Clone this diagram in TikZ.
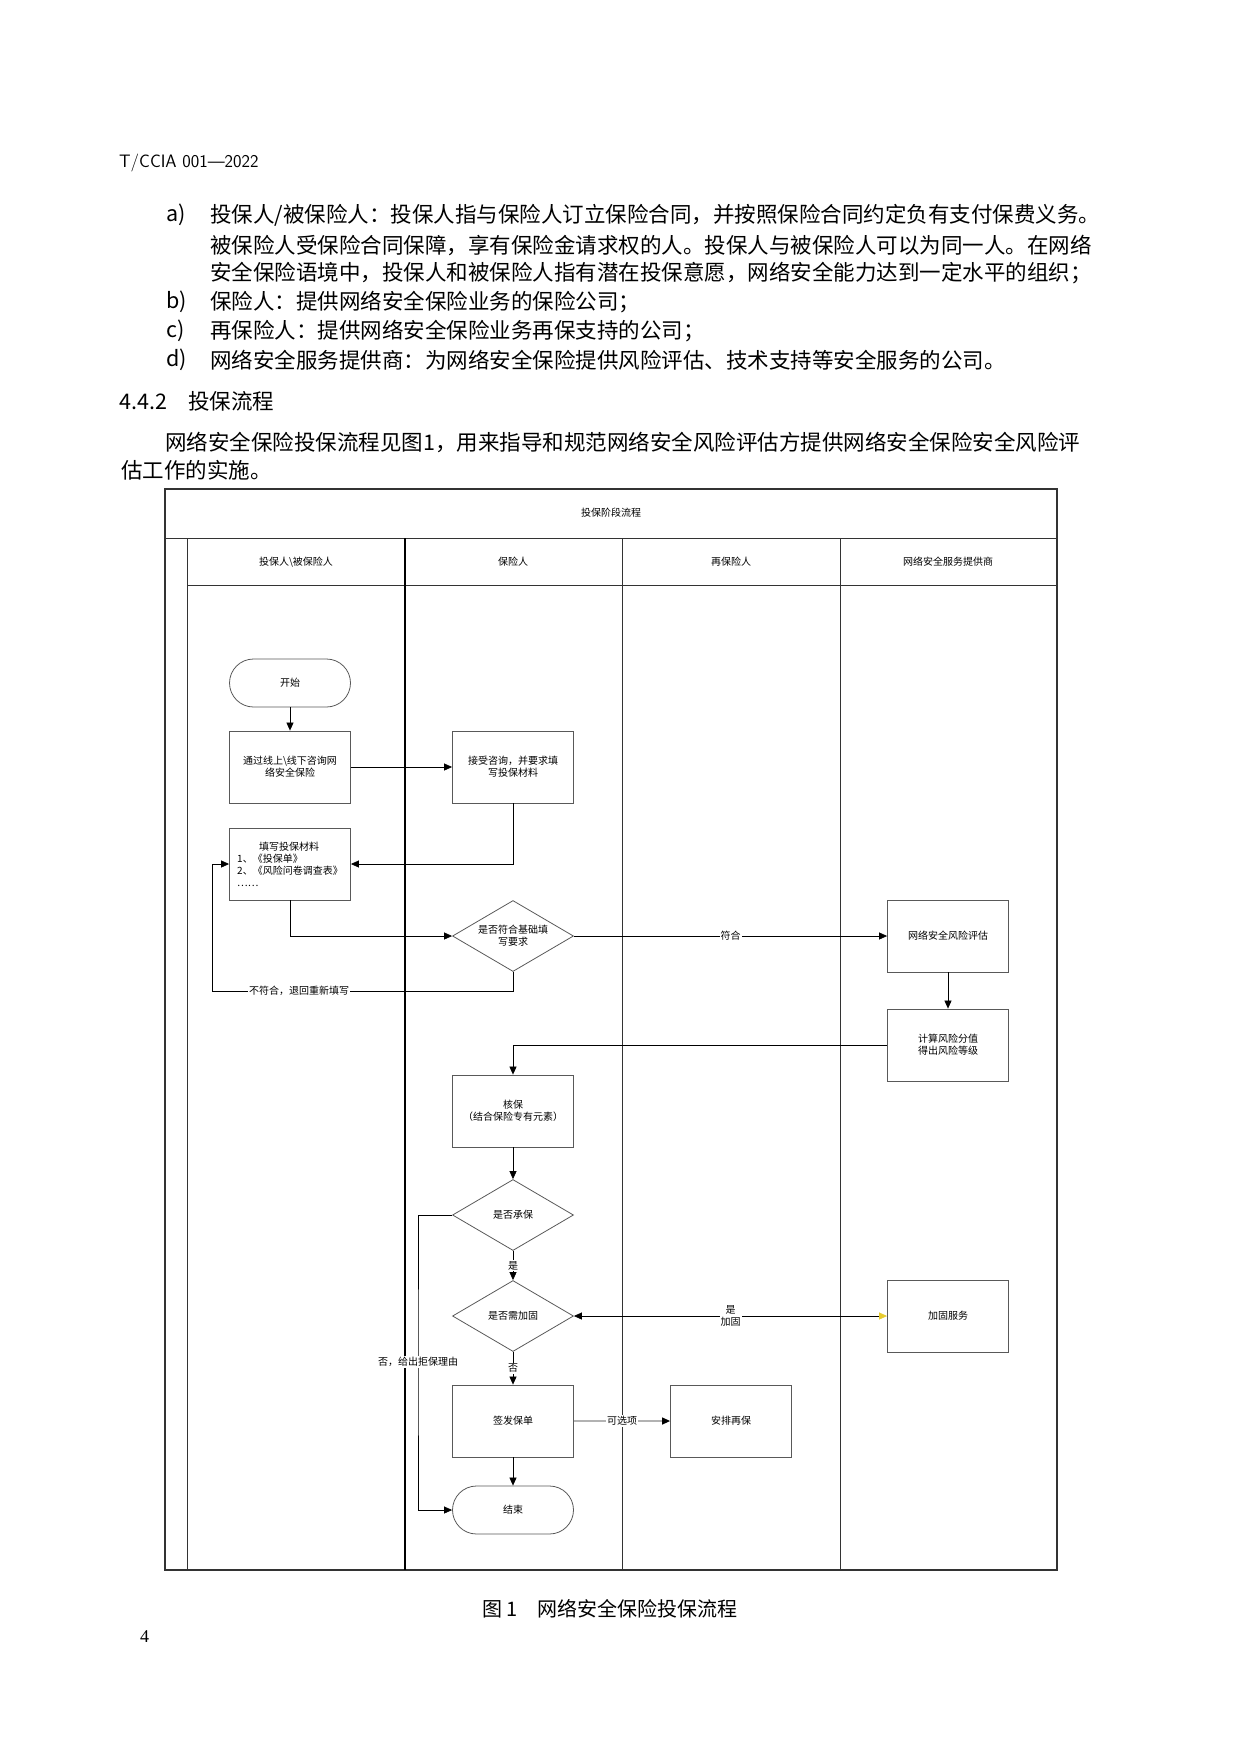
\documentclass[tikz,border=0pt]{standalone}
\usepackage{fontspec}
\setmainfont{Liberation Serif}
\newfontfamily\cjk{Noto Sans CJK SC}
\usetikzlibrary{shapes.geometric,arrows.meta}
\begin{document}
\begin{tikzpicture}[x=1pt,y=-1pt,
  body/.style={anchor=west,inner sep=0pt,font=\cjk\fontsize{21.5}{23}\selectfont},
  lbl/.style={font=\cjk\fontsize{10}{12}\selectfont,align=center},
  box/.style={draw=black!65,line width=0.8pt,minimum width=121pt,minimum height=72pt,lbl},
  term/.style={draw=black!65,line width=0.8pt,rounded corners=24pt,minimum width=121pt,minimum height=48pt,lbl},
  dia/.style={draw=black!65,line width=0.8pt,diamond,aspect=1.7,minimum width=121pt,minimum height=71pt,inner sep=0pt,lbl},
  con/.style={draw=black,line width=0.7pt,-{Triangle[length=8pt,width=7pt]}},
  tlbl/.style={lbl,fill=white,inner sep=1pt}]
\useasboundingbox (0,0) rectangle (1240,1754);
% page text
\node[body,font=\fontsize{18}{20}\selectfont\sffamily] (hdr) at (119,163) {T/CCIA 001—2022};
\node[body] (la) at (166,215) {a)};
\node[body] (ta) at (210,215) {投保人/被保险人：投保人指与保险人订立保险合同，并按照保险合同约定负有支付保费义务。};
\node[body] (ta2) at (210,245) {被保险人受保险合同保障，享有保险金请求权的人。投保人与被保险人可以为同一人。在网络};
\node[body] (ta3) at (210,273) {安全保险语境中，投保人和被保险人指有潜在投保意愿，网络安全能力达到一定水平的组织；};
\node[body] (lb) at (166,302) {b)};
\node[body] (tb) at (210,302) {保险人：提供网络安全保险业务的保险公司；};
\node[body] (lc) at (166,331) {c)};
\node[body] (tc) at (210,331) {再保险人：提供网络安全保险业务再保支持的公司；};
\node[body] (ld) at (166,360) {d)};
\node[body] (td) at (210,360) {网络安全服务提供商：为网络安全保险提供风险评估、技术支持等安全服务的公司。};
\node[body] (sec) at (119,401) {4.4.2\quad 投保流程};
\node[body] (p1) at (165,442) {网络安全保险投保流程见图1，用来指导和规范网络安全风险评估方提供网络安全保险安全风险评};
\node[body] (p2) at (121,470) {估工作的实施。};
\node[font=\cjk\fontsize{20}{22}\selectfont] (cap) at (610,1609) {图 1\quad 网络安全保险投保流程};
\node[body,font=\fontsize{18}{20}\selectfont] (pg) at (140,1637) {4};
% frame
\draw[black!80,line width=1.2pt] (165,489) rectangle (1057,1570);
\draw[black!80,line width=0.8pt] (165,538) -- (1057,538);
\draw[black!80,line width=0.8pt] (187,538) -- (187,1570);
\draw[black!80,line width=0.8pt] (187,585) -- (1057,585);
\draw[black,line width=1.6pt] (405,538) -- (405,1570);
\draw[black!80,line width=0.8pt] (622,538) -- (622,1570) (840,538) -- (840,1570);
\node[lbl] (title) at (611,513) {投保阶段流程};
\node[lbl] (h1) at (296,562) {投保人\textbackslash 被保险人};
\node[lbl] (h2) at (513,562) {保险人};
\node[lbl] (h3) at (731,562) {再保险人};
\node[lbl] (h4) at (948,562) {网络安全服务提供商};
% nodes
\node[term] (start) at (290,683) {开始};
\node[box] (consult) at (290,767) {通过线上\textbackslash 线下咨询网\\络安全保险};
\node[box] (accept) at (513,767) {接受咨询，并要求填\\写投保材料};
\node[box,align=left] (fill) at (290,864) {\hspace*{2.2em}填写投保材料\\1、《投保单》\\2、《风险问卷调查表》\\……};
\node[dia] (d1) at (513,936) {是否符合基础填\\写要求};
\node[box] (risk) at (948,936) {网络安全风险评估};
\node[box] (calc) at (948,1045) {计算风险分值\\得出风险等级};
\node[box] (uw) at (513,1111) {核保\\（结合保险专有元素）};
\node[dia] (d2) at (513,1215) {是否承保};
\node[dia] (d3) at (513,1316) {是否需加固};
\node[box] (harden) at (948,1316) {加固服务};
\node[box] (issue) at (513,1421) {签发保单};
\node[box] (re) at (731,1421) {安排再保};
\node[term] (end) at (513,1510) {结束};
% connectors
\draw[con] (start) -- (consult);
\draw[con] (consult) -- (accept);
\draw[con] (accept.south) |- (fill.east);
\draw[con] (fill.south) |- (d1.west);
\draw[con] (d1.south) |- (212,991) |- (fill.west);
\node[tlbl] (nf) at (299,991) {不符合，退回重新填写};
\draw[con] (d1.east) -- node[tlbl] (fh) {符合} (risk.west);
\draw[con] (risk) -- (calc);
\draw[con] (calc.west) -| (uw.north);
\draw[con] (uw) -- (d2);
\draw[con] (d2.south) -- node[tlbl] (y1) {是} (d3.north);
\draw[con] (d3.south) -- node[tlbl] (n1) {否} (issue.north);
\draw[con] (d2.west) -| (418,1362) |- (end.west);
\node[tlbl] (rj) at (418,1362) {否，给出拒保理由};
\draw[line width=0.7pt,{Triangle[length=8pt,width=7pt]}-{Triangle[length=8pt,width=7pt,color=yellow!60!brown]}] (d3.east) -- node[tlbl] (jg) {是\\加固} (harden.west);
\draw[con,draw=black!30,line width=1.2pt,-{Triangle[length=8pt,width=7pt,color=black]}] (issue.east) -- node[tlbl] (opt) {可选项} (re.west);
\draw[con] (issue) -- (end);
\end{tikzpicture}
\end{document}
